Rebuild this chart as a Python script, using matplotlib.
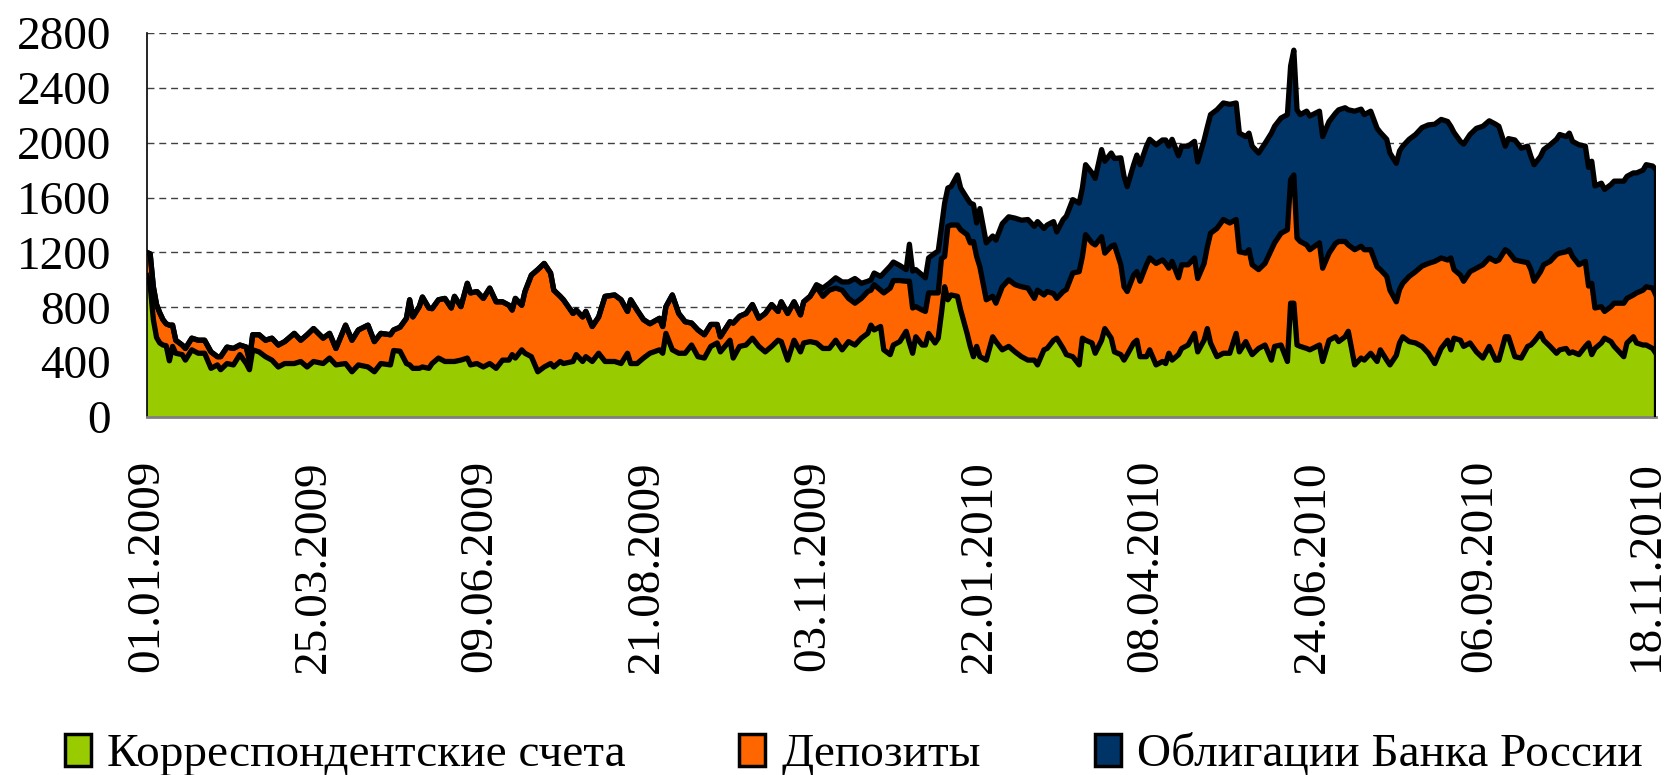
import numpy as np
import matplotlib.pyplot as plt
from matplotlib.patches import Patch

# business-day index (category axis), tick every 52 days
day = [0, 1, 2, 3, 4, 5, 6, 7, 8, 9, 11, 12, 14, 16, 18, 20, 22, 23, 25, 27,
       29, 31, 32, 33, 35, 37, 39, 41, 43, 46, 48, 50, 52, 55, 57, 59, 62, 64, 66, 69,
       71, 73, 76, 77, 79, 81, 82, 83, 85, 86, 88, 89, 91, 93, 95, 96, 98, 100, 101, 103,
       105, 107, 109, 111, 113, 114, 115, 117, 118, 120, 122, 124, 126, 127, 129, 130, 133, 134, 136, 137,
       139, 141, 143, 146, 148, 150, 151, 153, 155, 157, 160, 161, 162, 164, 166, 168, 170, 172, 174, 176,
       178, 179, 182, 183, 185, 187, 189, 191, 193, 195, 197, 198, 200, 202, 204, 205, 207,
       209, 211, 213, 215, 217, 219, 221, 223, 225, 226, 227, 229, 230, 232, 233, 235, 237, 238, 239, 240,
       242, 243, 244, 246, 247, 248, 249, 250, 251, 253, 254, 256, 257, 258, 259, 260, 262, 264, 265, 267,
       269, 271, 273, 275, 277, 278, 280, 281, 283, 284, 286, 287, 289, 291, 292, 293, 295, 296, 298, 299,
       301, 302, 304, 305, 306, 308, 309, 310, 312, 313, 315, 317, 318, 319, 320, 322, 323, 325, 327, 328,
       330, 331, 332, 334, 336, 338, 340, 341, 343, 344, 345, 347, 349, 351, 352, 354, 356, 357, 358, 359,
       360, 362, 363, 366, 367, 369, 371, 372, 374, 375, 377, 379, 380, 382, 384, 385, 387, 388, 390, 391,
       392, 394, 396, 398, 400, 402, 404, 406, 407, 408, 410, 411, 413, 415, 417, 419, 421, 422, 424, 425,
       427, 429, 431, 432, 433, 435, 436, 438, 440, 441, 443, 444, 445, 447, 449, 450, 451, 452, 454, 455,
       457, 458, 461, 462, 464, 465, 467, 468, 470, 471]

# Корреспондентские счета
corr = [1030, 960, 710, 580, 540, 525, 520, 410, 515, 465, 455, 415, 490, 465, 465, 355, 380, 345, 390, 380,
        455, 390, 345, 490, 475, 440, 415, 365, 390, 390, 405, 365, 405, 390, 430, 380, 390, 330, 380, 365,
        330, 390, 380, 485, 480, 390, 380, 355, 355, 365, 355, 390, 430, 405, 405, 405, 415, 430, 380, 390,
        365, 390, 355, 415, 415, 455, 430, 490, 465, 440, 330, 365, 390, 365, 405, 390, 405, 455, 405, 440,
        405, 465, 405, 405, 390, 465, 390, 390, 430, 465, 490, 465, 610, 490, 465, 465, 525, 440, 430, 515,
        540, 475, 560, 430, 515, 525, 575, 515, 475, 515, 560, 550, 415, 560, 475, 540, 550,
        540, 500, 500, 560, 490, 550, 525, 575, 610, 670, 635, 660, 490, 455, 525, 550, 625, 540, 465, 585,
        525, 525, 610, 540, 575, 755, 950, 855, 890, 880, 780, 610, 515, 440, 515, 440, 415, 585, 550, 490,
        515, 475, 440, 415, 415, 380, 490, 500, 560, 575, 500, 455, 440, 380, 575, 560, 540, 465, 560, 645,
        575, 475, 455, 415, 455, 540, 560, 440, 440, 490, 380, 405, 390, 465, 415, 455, 500, 525, 610, 475,
        560, 645, 540, 440, 465, 465, 610, 475, 550, 500, 455, 500, 525, 415, 515, 525, 405, 830, 830, 525,
        515, 500, 490, 525, 405, 560, 585, 550, 585, 625, 380, 430, 415, 465, 405, 490, 415, 380, 450, 540,
        585, 550, 540, 515, 465, 390, 500, 560, 490, 575, 560, 515, 540, 475, 430, 515, 415, 415, 585, 585,
        440, 430, 515, 525, 550, 610, 560, 515, 465, 490, 500, 465, 475, 455, 515, 540, 455, 500, 540, 575,
        550, 515, 440, 540, 585, 540, 525, 525, 500, 465]

# Депозиты
dep = [170, 230, 240, 240, 220, 185, 160, 260, 155, 95, 70, 85, 85, 95, 95, 120, 60, 95, 120, 120,
       70, 120, 70, 110, 125, 120, 160, 160, 160, 220, 155, 235, 240, 185, 180, 120, 280, 230, 255, 305,
       220, 220, 220, 150, 175, 330, 475, 375, 450, 510, 440, 400, 425, 460, 390, 475, 390, 545, 525, 525,
       500, 550, 485, 425, 400, 325, 435, 325, 450, 595, 745, 755, 660, 560, 475, 465, 350, 325, 325, 330,
       255, 265, 475, 485, 465, 305, 465, 390, 280, 215, 230, 195, 195, 400, 290, 230, 160, 195, 170, 160,
       135, 110, 135, 255, 220, 230, 245, 205, 280, 305, 210, 290, 340, 280, 270, 300, 330,
       410, 380, 425, 380, 435, 315, 305, 290, 305, 255, 330, 265, 415, 485, 470, 445, 365, 450, 330, 220,
       255, 245, 295, 365, 330, 400, 220, 535, 510, 520, 585, 720, 755, 840, 655, 655, 440, 295, 280, 460,
       485, 490, 510, 525, 450, 545, 400, 415, 340, 290, 415, 475, 610, 680, 595, 770, 730, 790, 755, 550,
       670, 780, 655, 535, 460, 495, 500, 550, 670, 670, 740, 740, 730, 620, 720, 560, 610, 585, 550, 535,
       560, 595, 800, 935, 975, 950, 830, 730, 645, 720, 655, 575, 595, 805, 755, 815, 960, 900, 935, 780,
       765, 755, 730, 745, 680, 635, 680, 730, 695, 630, 840, 815, 805, 755, 690, 585, 610, 545, 390, 390,
       390, 475, 520, 585, 655, 745, 660, 585, 670, 500, 475, 475, 520, 610, 680, 645, 720, 730, 635, 620,
       705, 705, 610, 550, 440, 450, 550, 620, 720, 705, 705, 755, 695, 655, 620, 415, 520, 295, 265, 195,
       255, 315, 390, 325, 305, 365, 400, 425, 440, 425]

# Облигации Банка России (none before November 2009)
bonds = [0] * 117 + [
    15, 60, 50, 75, 60, 120, 180, 110, 75, 75, 85, 100, 145, 160, 135, 110, 85, 270, 270, 270,
    255, 245, 255, 290, 305, 230, 390, 280, 280, 365, 305, 265, 290, 270, 245, 425, 415, 440, 460, 460,
    460, 485, 485, 500, 525, 500, 485, 485, 525, 485, 525, 535, 535, 500, 500, 510, 510, 485, 635, 670,
    680, 630, 780, 805, 765, 805, 850, 850, 865, 865, 865, 875, 900, 890, 890, 890, 865, 865, 850, 850,
    900, 875, 865, 865, 850, 865, 850, 865, 850, 850, 865, 850, 875, 850, 850, 840, 840, 830, 910, 935,
    925, 975, 975, 960, 960, 960, 950, 960, 975, 985, 1010, 1000, 985, 1010, 1010, 1000, 1000, 1000, 1010, 1010,
    1000, 1000, 1000, 1010, 1010, 1000, 1010, 1010, 960, 1000, 975, 1000, 1000, 1020, 1010, 1000, 1000, 975, 755, 825,
    875, 825, 850, 825, 850, 840, 840, 850, 840, 865, 840, 850, 840, 875, 840, 865, 890, 890, 900, 890,
    890, 890, 890, 890, 890, 875, 875, 890, 890, 915]

tick_pos = [0, 52, 104, 156, 208, 260, 312, 364, 416, 468]
tick_labels = ['01.01.2009', '25.03.2009', '09.06.2009', '21.08.2009', '03.11.2009',
               '22.01.2010', '08.04.2010', '24.06.2010', '06.09.2010', '18.11.2010']

names = ['Корреспондентские счета', 'Депозиты', 'Облигации Банка России']
colors = ['#99CC00', '#FF6600', '#003366']

plt.rcParams['font.family'] = ['Liberation Serif', 'DejaVu Serif']

x = np.array(day)
c = np.array(corr)
d = np.array(dep)
b = np.array(bonds)

fig = plt.figure(figsize=(16.68, 7.75), dpi=100)
ax = fig.add_axes([0.0881, 0.4619, 0.9046, 0.4955])

ax.stackplot(x, c, d, b, colors=colors, linewidth=0, zorder=2)
for top in (c, c + d, c + d + b):
    ax.plot(x, top, color='black', lw=3.8, solid_joinstyle='round', zorder=3)
ax.vlines(x[-1], 0, (c + d + b)[-1], color='black', lw=3.8, zorder=3)

ax.set_xlim(0, x[-1])
ax.set_ylim(0, 2800)
ax.set_yticks(range(0, 2801, 400))
ax.set_xticks(tick_pos)
ax.set_xticklabels(tick_labels, rotation=90)
ax.yaxis.grid(True, linestyle=(0, (5, 3.5)), color='#404040', lw=1)
ax.set_axisbelow(True)

for s in ['top', 'right']:
    ax.spines[s].set_visible(False)
ax.spines['left'].set_color('black')
ax.spines['left'].set_linewidth(1.2)
ax.spines['bottom'].set_color('#808080')
ax.spines['bottom'].set_linewidth(2)

ax.tick_params(axis='y', length=0, labelsize=34, pad=26)
ax.tick_params(axis='x', length=0, labelsize=34, pad=31)

handles = [Patch(facecolor=col, edgecolor='black', lw=2.5) for col in colors]
fig.legend(handles, names, loc='center', bbox_to_anchor=(0.512, 0.026), ncol=3,
           frameon=False, fontsize=34, handlelength=0.55, handleheight=0.65,
           handletextpad=0.35, columnspacing=2.4)

fig.savefig('out.png', dpi=100)
